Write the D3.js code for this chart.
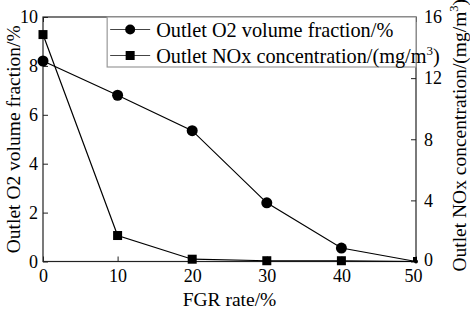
<!DOCTYPE html>
<html>
<head>
<meta charset="utf-8">
<script src="https://cdn.jsdelivr.net/npm/d3@7"></script>
<style>
  body { margin: 0; background: #fff; }
  text { font-family: "Liberation Serif", "Times New Roman", serif; fill: #000; }
</style>
</head>
<body>
<script>
// data
let fgrRate = [0, 10, 20, 30, 40, 50];
let o2Fraction = [8.2, 6.8, 5.35, 2.4, 0.55, 0];
let noxConc = [14.85, 1.7, 0.15, 0.05, 0.05, 0];
let xTicks = [0, 10, 20, 30, 40, 50];
let yLeftTicks = [0, 2, 4, 6, 8, 10];
let yRightTicks = [0, 4, 8, 12, 16];
let legendLabels = ['Outlet O2 volume fraction/%', 'Outlet NOx concentration/(mg/m'];

let width = 470, height = 312;
let margin = {top: 17, right: 54, bottom: 50.5, left: 43};
let w = width - margin.left - margin.right,
    h = height - margin.top - margin.bottom;

let svg = d3.select('body').append('svg')
    .attr('width', width)
    .attr('height', height);

let g = svg.append('g')
    .attr('transform', 'translate(' + margin.left + ',' + margin.top + ')');

let x = d3.scaleLinear().domain([0, 50]).range([0, w]);
let yL = d3.scaleLinear().domain([0, 10]).range([h, 0]);
let yR = d3.scaleLinear().domain([0, 16]).range([h, 0]);

let fontSize = 18;

// axes with inward ticks
function styleAxis(sel) {
    sel.select('.domain').remove();
    sel.selectAll('line').attr('stroke', '#222');
    sel.selectAll('text').style('font-size', fontSize + 'px')
        .style('font-family', '"Liberation Serif", serif');
}

let xAxisG = g.append('g').attr('transform', 'translate(0,' + h + ')')
    .call(d3.axisBottom(x).tickValues(xTicks).tickSizeInner(-5).tickSizeOuter(0).tickPadding(8))
    .call(styleAxis);
// last label sits a touch left, clear of the right axis "0"
xAxisG.selectAll('.tick text').filter(d => d === 50).attr('dx', -3);

g.append('g')
    .call(d3.axisTop(x).tickValues(xTicks).tickSizeInner(-5).tickSizeOuter(0).tickFormat(''))
    .call(styleAxis);
g.append('g')
    .call(d3.axisLeft(yL).tickValues(yLeftTicks).tickSizeInner(-5).tickSizeOuter(0).tickPadding(5))
    .call(styleAxis);
g.append('g').attr('transform', 'translate(' + w + ',0)')
    .call(d3.axisRight(yR).tickValues(yRightTicks).tickSizeInner(-5).tickSizeOuter(0).tickPadding(8))
    .call(styleAxis)
    .selectAll('.tick text').filter(d => d === 0).attr('dy', '0.2em');

// frame
g.append('rect')
    .attr('width', w).attr('height', h)
    .attr('fill', 'none')
    .attr('stroke', '#222')
    .attr('stroke-width', 1.2);

// legend box
let lg = g.append('g').attr('transform', 'translate(' + x(8.6) + ',0)');
lg.append('rect')
    .attr('width', w - x(8.6)).attr('height', 50)
    .attr('fill', '#fff')
    .attr('stroke', '#999')
    .attr('stroke-width', 1.2);

// lines
let lineO2 = d3.line().x((d, i) => x(fgrRate[i])).y(d => yL(d));
let lineNox = d3.line().x((d, i) => x(fgrRate[i])).y(d => yR(d));

g.append('path').datum(o2Fraction)
    .attr('d', lineO2).attr('fill', 'none').attr('stroke', '#000').attr('stroke-width', 1.2);
g.append('path').datum(noxConc)
    .attr('d', lineNox).attr('fill', 'none').attr('stroke', '#000').attr('stroke-width', 1.2);

g.selectAll('.o2pt').data(o2Fraction).enter().append('circle')
    .attr('class', 'o2pt')
    .attr('cx', (d, i) => x(fgrRate[i]))
    .attr('cy', d => yL(d))
    .attr('r', (d, i) => i === 5 ? 2 : 5.5)
    .attr('fill', '#000');

g.selectAll('.noxpt').data(noxConc).enter().append('rect')
    .attr('class', 'noxpt')
    .attr('x', (d, i) => x(fgrRate[i]) - (i === 5 ? 3 : 4.5))
    .attr('y', d => yR(d) - 4.5)
    .attr('width', (d, i) => i === 5 ? 4 : 9)
    .attr('height', (d, i) => i === 5 ? 4 : 9)
    .attr('fill', '#000');

// legend entries
let legendFont = 20.3;
let ly = [12.5, 38.5];
legendLabels.forEach((lab, i) => {
    let row = lg.append('g').attr('transform', 'translate(0,' + ly[i] + ')');
    row.append('line').attr('x1', 3).attr('x2', 43).attr('y1', 0).attr('y2', 0)
        .attr('stroke', '#444').attr('stroke-width', 1.2);
    if (i === 0) {
        row.append('circle').attr('cx', 23).attr('cy', 0).attr('r', 5).attr('fill', '#000');
    } else {
        row.append('rect').attr('x', 18.5).attr('y', -4.5).attr('width', 9).attr('height', 9).attr('fill', '#000');
    }
    let t = row.append('text').attr('x', 49).attr('y', 7)
        .style('font-size', legendFont + 'px')
        .text(lab);
    if (i === 1) {
        t.append('tspan').attr('dy', -8).style('font-size', '13px').text('3');
        t.append('tspan').attr('dy', 8).text(')');
    }
});

// axis titles
svg.append('text')
    .attr('x', margin.left + w / 2).attr('y', 306)
    .attr('text-anchor', 'middle')
    .style('font-size', '19.5px')
    .text('FGR rate/%');

svg.append('text')
    .attr('transform', 'translate(20,' + (margin.top + h / 2) + ') rotate(-90)')
    .attr('text-anchor', 'middle')
    .style('font-size', '19.5px')
    .text('Outlet O2 volume fraction/%');

let rt = svg.append('text')
    .attr('transform', 'translate(466,' + (margin.top + h / 2 - 4) + ') rotate(-90)')
    .attr('text-anchor', 'middle')
    .style('font-size', '19.5px')
    .text('Outlet NOx concentration/(mg/m');
rt.append('tspan').attr('dy', -8).style('font-size', '12.5px').text('3');
rt.append('tspan').attr('dy', 8).text(')');
</script>
</body>
</html>
